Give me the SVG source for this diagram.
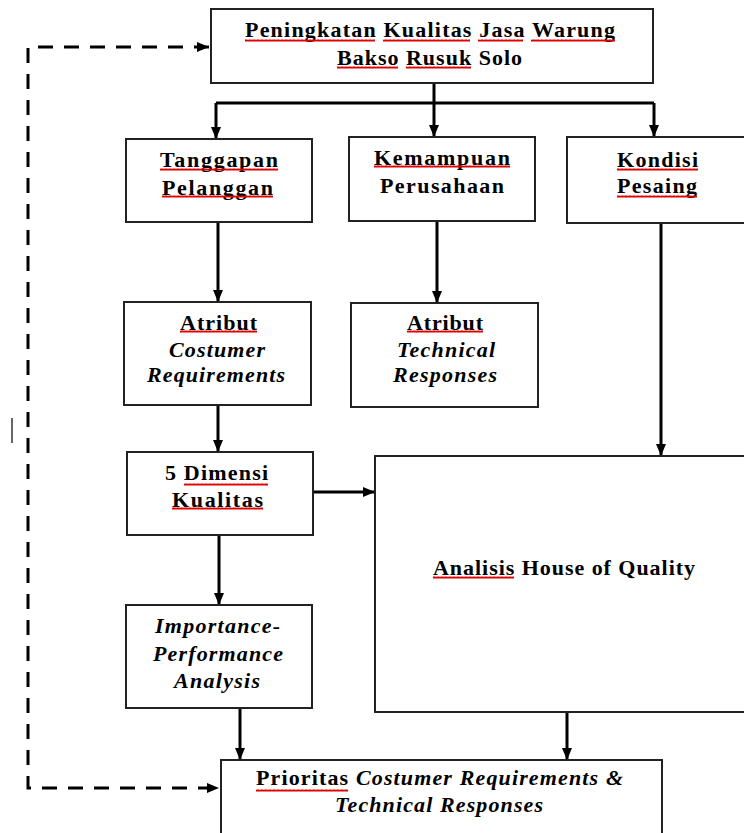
<svg xmlns="http://www.w3.org/2000/svg" width="744" height="833" viewBox="0 0 744 833">
<style>
.box{fill:#fff;stroke:#222;stroke-width:2}
.t{font-family:"Liberation Serif","Times New Roman",serif;font-weight:bold;font-size:22px;fill:#000;text-anchor:start}
.i{font-style:italic}
.c{stroke:#000;stroke-width:3;fill:none}
.d{stroke-dasharray:15 11}
.sq{fill:url(#sq)}
</style>
<defs>
<marker id="ah" viewBox="0 0 12 10" refX="12" refY="5" markerWidth="12" markerHeight="10" markerUnits="userSpaceOnUse" orient="auto-start-reverse"><path d="M0,0 L12,5 L0,10 Z" fill="#000"/></marker>
<pattern id="sq" x="0" y="0" width="4" height="3" patternUnits="userSpaceOnUse"><path d="M0,0.4 L1,2.6 L2,0.4 L3,2.6 L4,0.4" stroke="#e00000" stroke-width="1" fill="none"/></pattern>
</defs>

<g id="connectors">
<path class="c" d="M434,83 V103"/>
<path class="c" d="M216,103 H654"/>
<path class="c" d="M216,103 V139" marker-end="url(#ah)"/>
<path class="c" d="M434,103 V137" marker-end="url(#ah)"/>
<path class="c" d="M654,103 V137" marker-end="url(#ah)"/>
<path class="c" d="M218,222 V302" marker-end="url(#ah)"/>
<path class="c" d="M437,221 V303" marker-end="url(#ah)"/>
<path class="c" d="M661,223 V456" marker-end="url(#ah)"/>
<path class="c" d="M218,405 V452" marker-end="url(#ah)"/>
<path class="c" d="M313,492 H375" marker-end="url(#ah)"/>
<path class="c" d="M219,535 V605" marker-end="url(#ah)"/>
<path class="c" d="M240,708 V760" marker-end="url(#ah)"/>
<path class="c" d="M567,712 V760" marker-end="url(#ah)"/>
<path class="c d" d="M209,47 H28 V788 H219" marker-start="url(#ah)" marker-end="url(#ah)"/>
</g>

<path d="M12,418 V443" stroke="#333" stroke-width="1.5"/>

<g id="n-top">
<rect class="box" x="211" y="9" width="442" height="74"/>
<text class="t" x="245" y="37" textLength="370" lengthAdjust="spacing">Peningkatan Kualitas Jasa Warung</text>
<text class="t" x="337" y="65" textLength="185" lengthAdjust="spacing">Bakso Rusuk Solo</text>
<rect class="sq" x="245" y="39" width="130" height="3"/>
<rect class="sq" x="383" y="39" width="87" height="3"/>
<rect class="sq" x="478" y="39" width="45" height="3"/>
<rect class="sq" x="531" y="39" width="84" height="3"/>
<rect class="sq" x="337" y="66" width="61" height="3"/>
<rect class="sq" x="406" y="66" width="65" height="3"/>
</g>

<g id="n-tanggapan">
<rect class="box" x="126" y="139" width="186" height="83"/>
<text class="t" x="160" y="167" textLength="118" lengthAdjust="spacing">Tanggapan</text>
<text class="t" x="162" y="195" textLength="111" lengthAdjust="spacing">Pelanggan</text>
<rect class="sq" x="160" y="168" width="118" height="3"/>
<rect class="sq" x="162" y="195" width="111" height="3"/>
</g>

<g id="n-kemampuan">
<rect class="box" x="349" y="137" width="186" height="84"/>
<text class="t" x="374" y="165" textLength="136" lengthAdjust="spacing">Kemampuan</text>
<text class="t" x="380" y="193" textLength="124" lengthAdjust="spacing">Perusahaan</text>
<rect class="sq" x="374" y="165" width="136" height="3"/>
</g>

<g id="n-kondisi">
<rect class="box" x="567" y="137" width="190" height="86"/>
<text class="t" x="617" y="167" textLength="81" lengthAdjust="spacing">Kondisi</text>
<text class="t" x="617" y="193" textLength="80" lengthAdjust="spacing">Pesaing</text>
<rect class="sq" x="617" y="168" width="81" height="3"/>
<rect class="sq" x="617" y="195" width="80" height="3"/>
</g>

<g id="n-atribut-cr">
<rect class="box" x="124" y="302" width="187" height="103"/>
<text class="t" x="180" y="330" textLength="77" lengthAdjust="spacing">Atribut</text>
<text class="t i" x="169" y="357" textLength="96" lengthAdjust="spacing">Costumer</text>
<text class="t i" x="147" y="382" textLength="138" lengthAdjust="spacing">Requirements</text>
<rect class="sq" x="180" y="330" width="77" height="3"/>
</g>

<g id="n-atribut-tr">
<rect class="box" x="351" y="303" width="187" height="104"/>
<text class="t" x="407" y="330" textLength="76" lengthAdjust="spacing">Atribut</text>
<text class="t i" x="397" y="357" textLength="98" lengthAdjust="spacing">Technical</text>
<text class="t i" x="393" y="382" textLength="104" lengthAdjust="spacing">Responses</text>
<rect class="sq" x="407" y="330" width="76" height="3"/>
</g>

<g id="n-dimensi">
<rect class="box" x="127" y="452" width="186" height="83"/>
<text class="t" x="165" y="480" textLength="103" lengthAdjust="spacing">5 Dimensi</text>
<text class="t" x="172" y="507" textLength="91" lengthAdjust="spacing">Kualitas</text>
<rect class="sq" x="184" y="483" width="84" height="3"/>
<rect class="sq" x="172" y="507" width="91" height="3"/>
</g>

<g id="n-ipa">
<rect class="box" x="126" y="605" width="186" height="103"/>
<text class="t i" x="155" y="633" textLength="125" lengthAdjust="spacing">Importance-</text>
<text class="t i" x="153" y="661" textLength="130" lengthAdjust="spacing">Performance</text>
<text class="t i" x="174" y="688" textLength="86" lengthAdjust="spacing">Analysis</text>
</g>

<g id="n-hoq">
<rect class="box" x="375" y="456" width="380" height="256"/>
<text class="t" x="433" y="575" textLength="262" lengthAdjust="spacing">Analisis House of Quality</text>
<rect class="sq" x="433" y="576" width="81" height="3"/>
</g>

<g id="n-prioritas">
<rect class="box" x="221" y="760" width="441" height="80"/>
<text class="t" x="256" y="785" textLength="367" lengthAdjust="spacing">Prioritas <tspan class="i">Costumer Requirements &amp;</tspan></text>
<text class="t i" x="335" y="812" textLength="208" lengthAdjust="spacing">Technical Responses</text>
<rect class="sq" x="256" y="789" width="92" height="3"/>
</g>
</svg>
